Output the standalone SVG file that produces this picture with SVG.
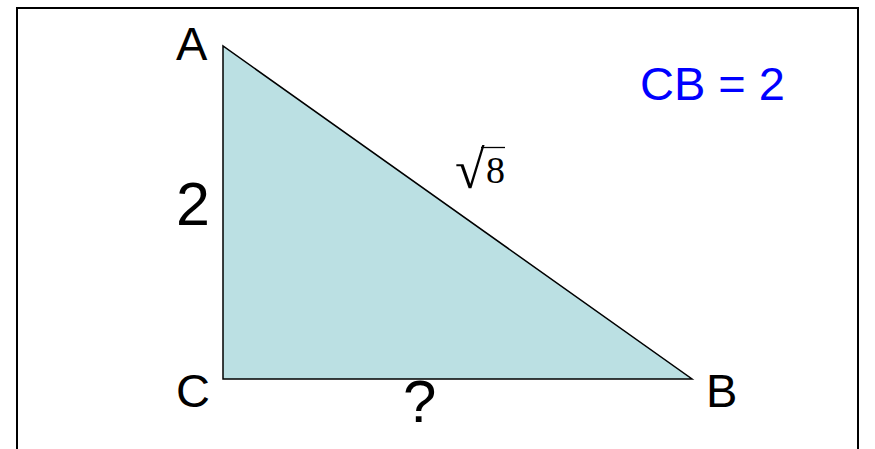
<svg xmlns="http://www.w3.org/2000/svg" width="875" height="449" viewBox="0 0 875 449">
<style>
.lbl{font-family:"Liberation Sans",Arial,sans-serif;font-size:47px;fill:#000}
.math{font-family:"Liberation Serif","Times New Roman",serif;font-size:38px;fill:#000}
</style>
<rect x="0" y="0" width="875" height="449" fill="#fff"/>
<path d="M17 449 V8 H858 V449" fill="none" stroke="#000" stroke-width="2"/>
<g id="triangle">
<polygon points="223,46 223,379 692,379" fill="#BBE0E3" stroke="#000" stroke-width="1.5"/>
</g>
<g id="labels">
<text class="lbl" x="176" y="60">A</text>
<text class="lbl" x="176" y="407">C</text>
<text class="lbl" x="706" y="407">B</text>
<text class="lbl" x="403" y="422" style="font-size:60px">?</text>
<text class="lbl" x="176" y="225" style="font-size:61px">2</text>
<text class="lbl" x="640" y="100" style="fill:#0000FF">CB = 2</text>
</g>
<g id="sqrt8">
<text class="math" x="455" y="188"><tspan style="font-size:54px">√</tspan><tspan x="486" y="183">8</tspan></text>
<line x1="481" y1="147.5" x2="505" y2="147.5" stroke="#000" stroke-width="1.3"/>
</g>
</svg>
